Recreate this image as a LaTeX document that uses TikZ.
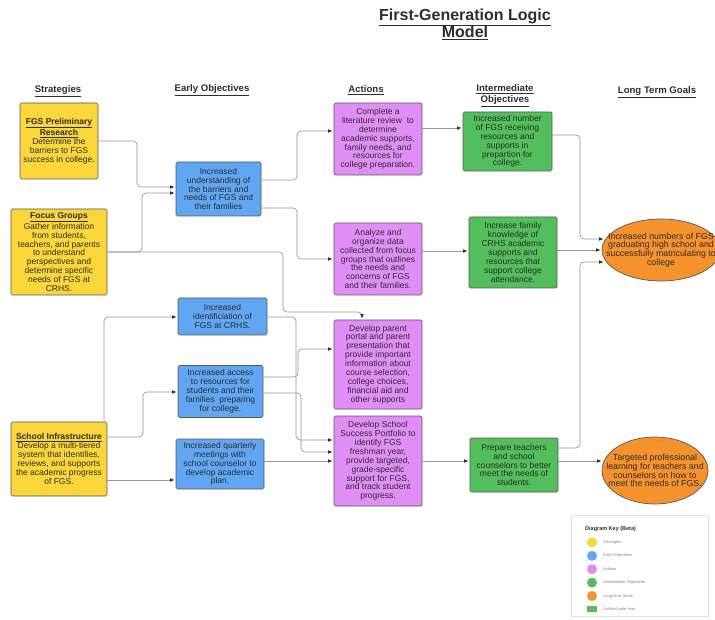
\documentclass[tikz,border=0pt]{standalone}
\usepackage{fontspec}
\setmainfont{Liberation Sans}
\usetikzlibrary{arrows.meta,shapes.geometric}
\definecolor{stratyellow}{RGB}{250,214,58}
\definecolor{earlyblue}{RGB}{96,166,242}
\definecolor{actpink}{RGB}{224,142,245}
\definecolor{intergreen}{RGB}{82,190,92}
\definecolor{goalorange}{RGB}{245,146,46}
\definecolor{edgegray}{RGB}{88,88,88}
\definecolor{linegray}{RGB}{150,150,150}
\definecolor{inkgray}{RGB}{45,45,45}
\definecolor{keyline}{RGB}{225,225,225}

\begin{document}
\begin{tikzpicture}[x=1pt,y=-1pt,
  box/.style={draw=edgegray,line width=0.7pt,rounded corners=1.5pt,align=center,inner sep=1pt,text=inkgray,font=\fontsize{8.5}{8.9}\selectfont},
  strat/.style={box,fill=stratyellow},
  early/.style={box,fill=earlyblue},
  act/.style={box,fill=actpink},
  inter/.style={box,fill=intergreen},
  goal/.style={ellipse,draw=edgegray,line width=0.7pt,fill=goalorange,inner sep=0pt},
  gtxt/.style={align=center,inner sep=0pt,text=inkgray,font=\fontsize{8.8}{8.8}\selectfont},
  hdr/.style={align=center,inner sep=0pt,text=inkgray,font=\fontsize{9.6}{11}\selectfont\bfseries},
  title/.style={align=center,inner sep=0pt,text=inkgray,font=\fontsize{16}{17.5}\selectfont\bfseries},
  link/.style={draw=linegray,line width=0.7pt,rounded corners=4pt,-{Triangle[length=4pt,width=3.2pt,color=inkgray]},shorten >=1.5pt},
  keydot/.style={circle,draw=none,minimum size=10,inner sep=0pt},
  keytxt/.style={inner sep=0pt,text=gray,font=\fontsize{4}{5}\selectfont}]
  \useasboundingbox (0,0) rectangle (715,620);
  \fill[white] (0,0) rectangle (715,620);

  \node[title](ttl) at(465,24.5){\underline{First-Generation Logic}\\\underline{Model}};
  \node[hdr](h1) at(58,91){\underline{Strategies}};
  \node[hdr](h2) at(212,90){\underline{Early Objectives}};
  \node[hdr](h3) at(366,90){\underline{Actions}};
  \node[hdr](h4) at(505,95.5){\underline{Intermediate}\\\underline{Objectives}};
  \node[hdr](h5) at(657,92){\underline{Long Term Goals}};

  \node[strat,minimum width=78,minimum height=76](S1) at(59,141){\textbf{\underline{FGS Preliminary}}\\\textbf{\underline{Research}}\\Determine the\\barriers to FGS\\success in college.};
  \node[strat,minimum width=96,minimum height=86](S2) at(59,252){\textbf{\underline{Focus Groups}}\\Gather information\\from students,\\teachers, and parents\\to understand\\perspectives and\\determine specific\\needs of FGS at\\CRHS.};
  \node[strat,minimum width=96,minimum height=74](S3) at(59,459){\textbf{\underline{School Infrastructure}}\\Develop a multi-tiered\\system that identifies,\\reviews, and supports\\the academic progress\\of FGS.};

  \node[early,minimum width=85,minimum height=54](E1) at(218.5,189){Increased\\understanding of\\the barriers and\\needs of FGS and\\their families};
  \node[early,minimum width=89,minimum height=37](E2) at(222.5,316.5){Increased\\identificiation of\\FGS at CRHS.};
  \node[early,minimum width=85,minimum height=52](E3) at(220.5,391.5){Increased access\\to resources for\\students and their\\families\ \ preparing\\for college.};
  \node[early,minimum width=88,minimum height=50](E4) at(220,464){Increased quarterly\\meetings with\\school counselor to\\develop academic\\plan.};

  \node[act,minimum width=88,minimum height=72](A1) at(378,139){Complete a\\literature review\ \ to\\determine\\academic supports,\\family needs, and\\resources for\\college preparation.};
  \node[act,minimum width=88,minimum height=72](A2) at(378,259){Analyze and\\organize data\\collected from focus\\groups that outlines\\the needs and\\concerns of FGS\\and their families.};
  \node[act,minimum width=88,minimum height=89](A3) at(378,364.5){Develop parent\\portal and parent\\presentation that\\provide important\\information about\\course selection,\\college choices,\\financial aid and\\other supports};
  \node[act,minimum width=88,minimum height=90](A4) at(378,461){Develop School\\Success Portfolio to\\identify FGS\\freshman year,\\provide targeted,\\grade-specific\\support for FGS,\\and track student\\progress.};

  \node[inter,minimum width=89,minimum height=59](I1) at(507.5,141.5){Increased number\\of FGS receiving\\resources and\\supports in\\prepartion for\\college.};
  \node[inter,minimum width=88,minimum height=71](I2) at(513,252.5){Increase family\\knowledge of\\CRHS academic\\supports and\\resources that\\support college\\attendance.};
  \node[inter,minimum width=88,minimum height=54](I3) at(514,465){Prepare teachers\\and school\\counselors to better\\meet the needs of\\students.};

  \node[goal,minimum width=118,minimum height=62](L1) at(661,250){};
  \node[gtxt](L1t) at(L1){Increased numbers of FGS\\graduating high school and\\successfully matriculating to\\college};
  \node[goal,minimum width=106,minimum height=67](L2) at(655,470.5){};
  \node[gtxt](L2t) at(L2){Targeted professional\\learning for teachers and\\counselors on how to\\meet the needs of FGS.};

  \draw[link](S1.east) -- (137,141) |- (E1.west |- 0,187);
  \draw[link](S2.east) -- (142,252) |- (E1.west |- 0,193);
  \draw[link](S2.east) -| (283,312) -| (A3.north -| 362,0);
  \draw[link](E1.east |- 0,180) -- (297,180) |- (A1.west |- 0,131);
  \draw[link](E1.east |- 0,208) -- (297,208) |- (A2.west |- 0,259);
  \draw[link](S3.north -| 104,0) |- (E2.west |- 0,317);
  \draw[link](S3.east |- 0,437) -- (143,437) |- (E3.west |- 0,392);
  \draw[link](S3.east |- 0,480) -- (E4.west |- 0,480);
  \draw[link](E2.east |- 0,317) -- (296,317) |- (A4.west |- 0,440);
  \draw[link](E3.east |- 0,377) -- (298,377) |- (A3.west |- 0,349);
  \draw[link](E3.east |- 0,393) -- (301,393) |- (A4.west |- 0,452);
  \draw[link](E4.east |- 0,461) -- (A4.west |- 0,461);
  \draw[link](A1.east |- 0,128) -- (I1.west |- 0,128);
  \draw[link](A2.east |- 0,251) -- (I2.west |- 0,251);
  \draw[link](A4.east |- 0,461) -- (I3.west |- 0,461);
  \draw[link](I1.east |- 0,135) -- (580,135) |- ([xshift=3pt]L1.west |- 0,239);
  \draw[link](I2.east |- 0,250) -- (L1.west |- 0,250);
  \draw[link](I3.east |- 0,448) -- (580,448) |- ([xshift=3pt]L1.west |- 0,262);
  \draw[link](I3.east |- 0,461) -- ([xshift=1pt]L2.west |- 0,461);

  \node[draw=keyline,line width=0.6pt,minimum width=137,minimum height=101,inner sep=0pt](key) at(639.5,565.5){};
  \node[anchor=west,inner sep=0pt,text=inkgray,font=\fontsize{5.5}{6}\selectfont\bfseries](keyt) at(585,529){Diagram Key (Beta)};
  \foreach \c/\t [count=\i] in {stratyellow/Strategies,earlyblue/Early Objectives,actpink/Actions,intergreen/Intermediate Objectives,goalorange/Long term Goals}{
    \node[keydot,fill=\c](k\i) at(592,{529+13.4*\i}){};
    \node[keytxt,anchor=west](kt\i) at(603,{529+13.4*\i}){\t};
  }
  \node[fill=intergreen,minimum width=10,minimum height=6,inner sep=0pt](k6) at(592,609){};
  \node[keytxt,anchor=west](kt6) at(603,609){Untitled color item};
\end{tikzpicture}
\end{document}
